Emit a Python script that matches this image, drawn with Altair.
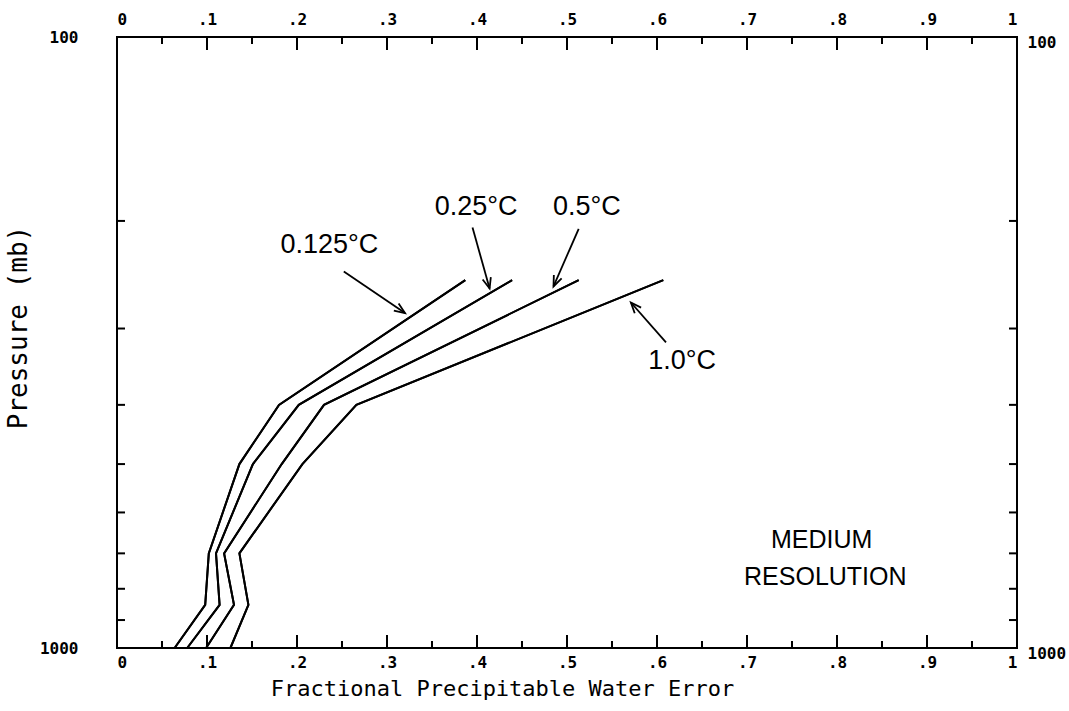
import math
import altair as alt
import pandas as pd

# ---------------- data ----------------
pressure = [1000, 850, 700, 500, 400, 250]
err_0125 = [0.064, 0.098, 0.102, 0.136, 0.180, 0.387]
err_025 = [0.078, 0.114, 0.110, 0.151, 0.202, 0.439]
err_05 = [0.099, 0.130, 0.119, 0.183, 0.230, 0.513]
err_10 = [0.126, 0.146, 0.136, 0.206, 0.266, 0.607]
series_names = ["0.125", "0.25", "0.5", "1.0"]

x_major = [0.1, 0.2, 0.3, 0.4, 0.5, 0.6, 0.7, 0.8, 0.9]
x_minor = [0.05, 0.15, 0.25, 0.35, 0.45, 0.55, 0.65, 0.75, 0.85, 0.95]
x_labels = [0, 0.1, 0.2, 0.3, 0.4, 0.5, 0.6, 0.7, 0.8, 0.9, 1]
p_ticks = [200, 300, 400, 500, 600, 700, 800, 900]
p_labels = [100, 1000]

# annotations (data coordinates)
lab_text = ["0.125°C", "0.25°C", "0.5°C", "1.0°C"]
lab_x = [0.236, 0.399, 0.522, 0.628]
lab_p = [219, 190, 190, 339]

box_text = ["MEDIUM", "RESOLUTION"]
box_x = [0.783, 0.787]
box_p = [666, 765]

arr_x0 = [0.252, 0.395, 0.513, 0.610]
arr_p0 = [242, 205, 206, 316]
arr_x1 = [0.320, 0.414, 0.485, 0.571]
arr_p1 = [283, 258, 256, 272]

# ---------------- layout ----------------
W, H = 900, 611
LEFT, TOP = 117, 37
MONO = "DejaVu Sans Mono"
SANS = "Liberation Sans"

rows = []
for name, vals in zip(series_names, [err_0125, err_025, err_05, err_10]):
    for i, (p, v) in enumerate(zip(pressure, vals)):
        rows.append({"series": name, "idx": i, "p": p, "err": v})
df = pd.DataFrame(rows)

xs = alt.Scale(domain=[0, 1], nice=False, zero=False)
ys = alt.Scale(type="log", domain=[100, 1000], reverse=True, nice=False)

label_expr = ("datum.value == 0 ? '0' : (datum.value == 1 ? '1' : "
              "replace(format(datum.value, '.1f'), '0.', '.'))")

LBL = dict(labelFont=MONO, labelFontSize=16, labelFontWeight="bold", labelColor="black")

bottom_axis = alt.Axis(orient="bottom", values=x_labels, labelExpr=label_expr,
                       tickSize=0, domain=False, grid=False, labelPadding=6, **LBL,
                       title="Fractional Precipitable Water Error",
                       titleFont=MONO, titleFontSize=22, titleFontWeight="normal",
                       titleColor="black", titleX=385, titleY=40,
                       titleBaseline="middle", titleAlign="center")
top_axis = alt.Axis(orient="top", values=x_labels, labelExpr=label_expr,
                    tickSize=0, domain=False, grid=False, labelPadding=10, **LBL,
                    title=None)
left_axis = alt.Axis(orient="left", values=p_labels, format="d", tickSize=0,
                     domain=False, grid=False, labelPadding=39, **LBL,
                     title="Pressure (mb)",
                     titleFont=MONO, titleFontSize=26, titleFontWeight="normal",
                     titleColor="black", titleX=-99, titleY=290, titleAngle=270,
                     titleBaseline="middle", titleAlign="center")
right_axis = alt.Axis(orient="right", values=p_labels, format="d", tickSize=0,
                      domain=False, grid=False, labelPadding=10, **LBL,
                      labelOffset=5, title=None)

lines_bl = alt.Chart(df).mark_line(color="black", strokeWidth=2).encode(
    x=alt.X("err:Q", scale=xs, axis=bottom_axis),
    y=alt.Y("p:Q", scale=ys, axis=left_axis),
    detail="series:N",
    order="idx:Q",
)
lines_tr = alt.Chart(df).mark_line(color="black", strokeWidth=2).encode(
    x=alt.X("err:Q", scale=xs, axis=top_axis),
    y=alt.Y("p:Q", scale=ys, axis=right_axis),
    detail="series:N",
    order="idx:Q",
)

# inward ticks
def xticks(vals, y0, y1):
    return alt.Chart(pd.DataFrame({"v": vals})).mark_rule(color="black", strokeWidth=2).encode(
        x=alt.X("v:Q", scale=xs, axis=None), y=alt.value(y0), y2=alt.value(y1))

def yticks(x0, x1):
    return alt.Chart(pd.DataFrame({"v": p_ticks})).mark_rule(color="black", strokeWidth=2).encode(
        y=alt.Y("v:Q", scale=ys, axis=None), x=alt.value(x0), x2=alt.value(x1))

ticks = [
    xticks(x_major, 0, 13), xticks(x_minor, 0, 7),
    xticks(x_major, H, H - 13), xticks(x_minor, H, H - 7),
    yticks(0, 8), yticks(W, W - 8),
]

# annotation text
lab_df = pd.DataFrame({"t": lab_text, "x": lab_x, "p": lab_p})
labels = alt.Chart(lab_df).mark_text(font=SANS, fontSize=27, color="black",
                                     align="center", baseline="middle").encode(
    x=alt.X("x:Q", scale=xs, axis=None), y=alt.Y("p:Q", scale=ys, axis=None),
    text="t:N")

box_df = pd.DataFrame({"t": box_text, "x": box_x, "p": box_p})
box = alt.Chart(box_df).mark_text(font=SANS, fontSize=25, color="black",
                                  align="center", baseline="middle").encode(
    x=alt.X("x:Q", scale=xs, axis=None), y=alt.Y("p:Q", scale=ys, axis=None),
    text="t:N")

# arrows
def px(x):
    return x * W

def py(p):
    return (math.log10(p) - 2) * H

angles = []
for a, b, c, d in zip(arr_x0, arr_p0, arr_x1, arr_p1):
    dx = px(c) - px(a)
    dy = py(d) - py(b)
    ang = math.degrees(math.atan2(dx, -dy)) % 360
    angles.append(ang)

arr_df = pd.DataFrame({"x0": arr_x0, "p0": arr_p0, "x1": arr_x1, "p1": arr_p1, "ang": angles})
shafts = alt.Chart(arr_df).mark_rule(color="black", strokeWidth=1.8).encode(
    x=alt.X("x0:Q", scale=xs, axis=None), y=alt.Y("p0:Q", scale=ys, axis=None),
    x2="x1:Q", y2="p1:Q")
heads = alt.Chart(arr_df).mark_point(
    shape="M-0.4,1 L0,0 L0.4,1", filled=False, color="black",
    strokeWidth=1.8, size=450, opacity=1).encode(
    x=alt.X("x1:Q", scale=xs, axis=None), y=alt.Y("p1:Q", scale=ys, axis=None),
    angle=alt.Angle("ang:Q", scale=None))

chart = alt.layer(lines_bl, lines_tr, *ticks, shafts, heads, labels, box).resolve_axis(
    x="independent", y="independent"
).properties(
    width=W, height=H,
    autosize=alt.AutoSizeParams(type="none"),
    padding={"left": LEFT, "top": TOP, "right": 1069 - LEFT - W, "bottom": 711 - TOP - H},
    background="white",
).configure_view(stroke="black", strokeWidth=2)

chart.save("out.html", embed_options={"renderer": "svg", "actions": False})
